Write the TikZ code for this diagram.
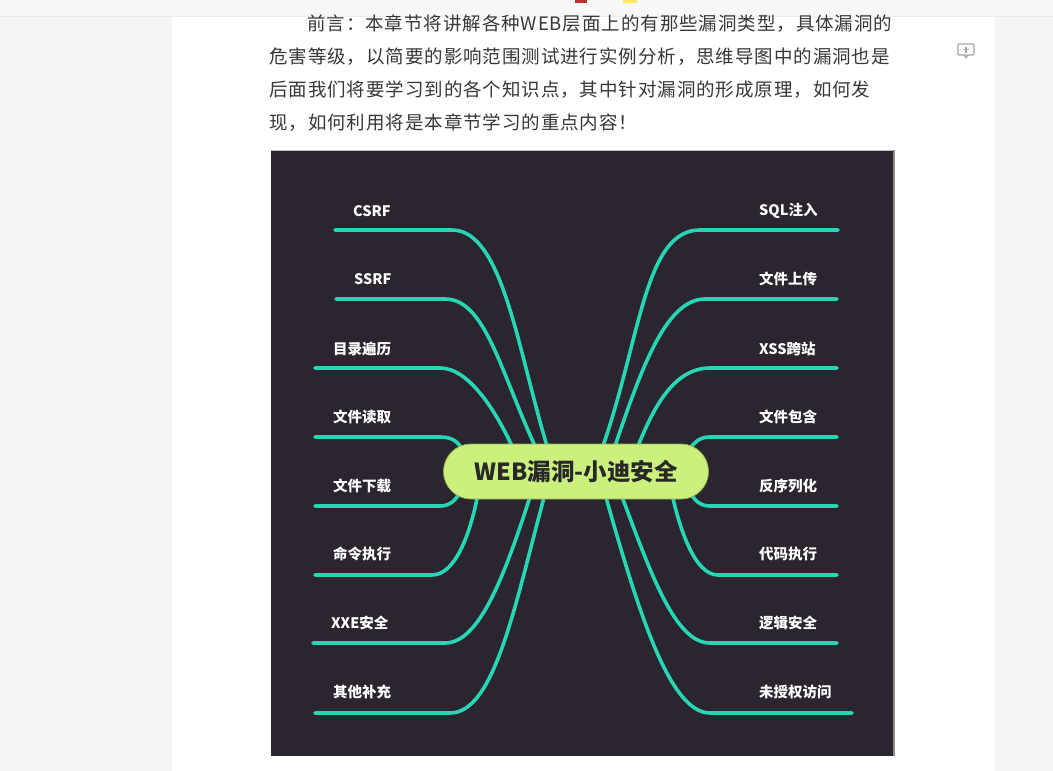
\documentclass[tikz,border=0pt]{standalone}
\usepackage{fontspec}
\newfontfamily\cjk{Noto Sans CJK SC}
\newfontfamily\cjkp[LetterSpace=5]{Noto Sans CJK SC}
\definecolor{pagebg}{RGB}{245,245,245}
\definecolor{barbg}{RGB}{248,248,248}
\definecolor{panel}{RGB}{42,37,47}
\definecolor{teal}{RGB}{38,214,180}
\definecolor{lime}{RGB}{204,240,126}
\definecolor{limeedge}{RGB}{150,180,80}
\definecolor{txt}{RGB}{55,55,55}
\definecolor{rootTxt}{RGB}{40,40,40}
\tikzset{
  para/.style={anchor=west, inner sep=0pt, text=txt, font=\cjkp\fontsize{18.5}{20}\selectfont},
  lbl/.style={anchor=west, inner sep=0pt, text=white, font=\cjk\bfseries\fontsize{14.5}{17}\selectfont},
  branch/.style={draw=teal, line width=3.6pt, line cap=round},
  rootbox/.style={rectangle, rounded corners=27.5pt, fill=lime, draw=limeedge, line width=0.8pt,
     minimum width=265pt, minimum height=55pt, inner sep=0pt, text=rootTxt,
     font=\cjk\bfseries\fontsize{23.5}{26}\selectfont}
}
\begin{document}
\begin{tikzpicture}[x=1pt,y=-1pt]
\useasboundingbox (0,0) rectangle (1053,771);
% page background
\fill[pagebg] (0,0) rectangle (1053,771);
\fill[white] (172,17) rectangle (995,771);
\fill[barbg] (0,0) rectangle (1053,16);
\draw[black!8, line width=1pt] (0,16.5) -- (1053,16.5);
\fill[red!70!black!80] (575,0) rectangle (587,3);
\fill[yellow!80!orange!60] (623,0) rectangle (637,3);
% comment icon
\draw[black!35, line width=1.1pt, rounded corners=1pt] (958,44) rectangle (974,55);
\draw[black!35, line width=1.1pt] (964,55) -- (966,58) -- (968,55);
\draw[black!35, line width=1.1pt] (966,46.5) -- (966,52.5) (963,49.5) -- (969,49.5);
% paragraph
\node[para] (t1) at (307,24) {前言：本章节将讲解各种WEB层面上的有那些漏洞类型，具体漏洞的};
\node[para] (t2) at (269,57) {危害等级，以简要的影响范围测试进行实例分析，思维导图中的漏洞也是};
\node[para] (t3) at (269,90) {后面我们将要学习到的各个知识点，其中针对漏洞的形成原理，如何发};
\node[para] (t4) at (269,123) {现，如何利用将是本章节学习的重点内容！};
% mind-map panel
\fill[panel] (271,150) rectangle (894,756);
\draw[black!25, line width=1.2pt] (271,150.5) -- (894,150.5);
\draw[black!45, line width=1.5pt] (894,150) -- (894,756);
% coordinates
\coordinate (s1) at (547,446);  \coordinate (h1) at (452,230);  \coordinate (o1) at (335,230);
\coordinate (s2) at (535,446);  \coordinate (h2) at (445,299);  \coordinate (o2) at (336,299);
\coordinate (s3) at (512,446);  \coordinate (h3) at (440,368);  \coordinate (o3) at (315,368);
\coordinate (s4) at (462,449);  \coordinate (h4) at (440,437);  \coordinate (o4) at (315,437);
\coordinate (s5) at (460,492);  \coordinate (h5) at (440,506);  \coordinate (o5) at (315,506);
\coordinate (s6) at (478,494);  \coordinate (h6) at (432,575);  \coordinate (o6) at (315,575);
\coordinate (s7) at (531,494);  \coordinate (h7) at (445,643);  \coordinate (o7) at (313,643);
\coordinate (s8) at (545,494);  \coordinate (h8) at (450,713);  \coordinate (o8) at (315,713);
\coordinate (s9) at (603,446);  \coordinate (h9) at (700,230);  \coordinate (o9) at (838,230);
\coordinate (s10) at (615,446); \coordinate (h10) at (705,299); \coordinate (o10) at (837,299);
\coordinate (s11) at (638,446); \coordinate (h11) at (710,368); \coordinate (o11) at (837,368);
\coordinate (s12) at (690,449); \coordinate (h12) at (710,437); \coordinate (o12) at (837,437);
\coordinate (s13) at (690,492); \coordinate (h13) at (710,506); \coordinate (o13) at (837,506);
\coordinate (s14) at (672,494); \coordinate (h14) at (718,575); \coordinate (o14) at (837,575);
\coordinate (s15) at (621,494); \coordinate (h15) at (710,643); \coordinate (o15) at (837,643);
\coordinate (s16) at (605,494); \coordinate (h16) at (710,713); \coordinate (o16) at (852,713);
% branches
\draw[branch] (s1) .. controls (517,346) and (502,230) .. (h1) -- (o1);
\draw[branch] (s2) .. controls (500,370) and (485,299) .. (h2) -- (o2);
\draw[branch] (s3) .. controls (497,414) and (470,368) .. (h3) -- (o3);
\draw[branch] (s4) .. controls (457,440) and (450,437) .. (h4) -- (o4);
\draw[branch] (s5) .. controls (456,500) and (450,506) .. (h5) -- (o5);
\draw[branch] (s6) .. controls (470,535) and (455,575) .. (h6) -- (o6);
\draw[branch] (s7) .. controls (505,574) and (480,643) .. (h7) -- (o7);
\draw[branch] (s8) .. controls (515,604) and (495,713) .. (h8) -- (o8);
\draw[branch] (s9) .. controls (641,336) and (645,230) .. (h9) -- (o9);
\draw[branch] (s10) .. controls (640,373) and (665,299) .. (h10) -- (o10);
\draw[branch] (s11) .. controls (652,412) and (672,368) .. (h11) -- (o11);
\draw[branch] (s12) .. controls (694,442) and (700,437) .. (h12) -- (o12);
\draw[branch] (s13) .. controls (694,500) and (700,506) .. (h13) -- (o13);
\draw[branch] (s14) .. controls (680,530) and (695,575) .. (h14) -- (o14);
\draw[branch] (s15) .. controls (651,574) and (675,643) .. (h15) -- (o15);
\draw[branch] (s16) .. controls (639,614) and (670,713) .. (h16) -- (o16);
% root
\node[rootbox] (root) at (576,471.5) {WEB漏洞-小迪安全};
% labels
\node[lbl] (n1) at (353,211) {CSRF};
\node[lbl] (n2) at (354,279) {SSRF};
\node[lbl] (n3) at (333,349) {目录遍历};
\node[lbl] (n4) at (333,417) {文件读取};
\node[lbl] (n5) at (333,486) {文件下载};
\node[lbl] (n6) at (333,554) {命令执行};
\node[lbl] (n7) at (331,623) {XXE安全};
\node[lbl] (n8) at (333,692) {其他补充};
\node[lbl] (n9) at (759,211) {SQL注入};
\node[lbl] (n10) at (759,279) {文件上传};
\node[lbl] (n11) at (759,349) {XSS跨站};
\node[lbl] (n12) at (759,417) {文件包含};
\node[lbl] (n13) at (759,486) {反序列化};
\node[lbl] (n14) at (759,554) {代码执行};
\node[lbl] (n15) at (759,623) {逻辑安全};
\node[lbl] (n16) at (759,692) {未授权访问};
\end{tikzpicture}
\end{document}
